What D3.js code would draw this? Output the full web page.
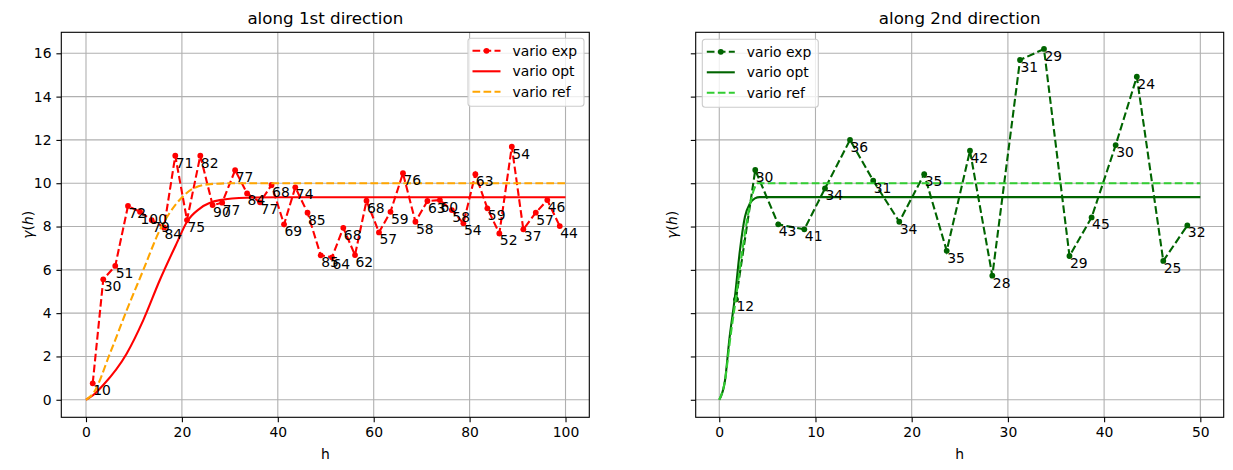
<!DOCTYPE html>
<html>
<head>
<meta charset="utf-8">
<script src="https://cdnjs.cloudflare.com/ajax/libs/d3/7.8.5/d3.min.js"></script>
<style>
body { margin: 0; background: #fff; }
text { font-family: "DejaVu Sans", sans-serif; fill: #000; }
</style>
</head>
<body>
<script>

// Experimental variogram along the 1st direction: lags, values and pair counts.

var lag1 = [1.4, 3.6, 6.1, 8.76, 11.26, 13.7, 16.27, 18.62, 21.06, 23.84,
            26.4, 28.4, 31.1, 33.6, 36.3, 38.7, 41.3, 43.65, 46.2, 48.95,
            51.3, 53.66, 56.1, 58.5, 61.1, 63.5, 66.1, 68.7, 71.2, 73.8,
            76.3, 78.7, 81.2, 83.7, 86.2, 88.8, 91.2, 93.8, 96.2, 98.8];
var gam1 = [0.76, 5.56, 6.18, 8.95, 8.68, 8.3, 7.96, 11.27, 8.3, 11.27,
            8.99, 9.1, 10.6, 9.53, 9.12, 9.92, 8.1, 9.81, 8.64, 6.67,
            6.58, 7.94, 6.68, 9.19, 7.73, 8.68, 10.46, 8.22, 9.18, 9.22,
            8.76, 8.15, 10.42, 8.84, 7.68, 11.69, 7.87, 8.64, 9.22, 8.02];
var npair1 = [10, 30, 51, 72, 100, 79, 84, 71, 75, 82,
              90, 77, 77, 84, 77, 68, 69, 74, 85, 85,
              64, 68, 62, 68, 57, 59, 76, 58, 63, 60,
              58, 54, 63, 59, 52, 54, 37, 57, 46, 44];

// Fitted and reference model curves.

var optH1 = [0, 1.53, 3.6, 8.5, 11.95, 15.4, 18.9, 21.06, 23.8, 27.9, 33.5, 40, 100];
var optG1 = [0, 0.22, 0.68, 2.14, 3.68, 5.53, 7.22, 8.22, 8.84, 9.22, 9.33, 9.35, 9.35];
var refH1 = [0, 1.53, 5, 8.5, 11.95, 15.4, 18.9, 22.4, 25.9, 30.5, 35, 100];
var refG1 = [0, 0.3, 2.14, 4.14, 5.99, 7.84, 9.07, 9.76, 9.96, 10, 10, 10];

// Same thing along the 2nd direction.

var lag2 = [1.74, 3.74, 6.13, 8.84, 10.99, 13.59, 16.0, 18.71, 21.3, 23.64,
            26.06, 28.38, 31.26, 33.75, 36.4, 38.7, 41.2, 43.4, 46.15, 48.65];
var gam2 = [4.64, 10.61, 8.1, 7.87, 9.76, 12.0, 10.12, 8.22, 10.42, 6.88,
            11.5, 5.73, 15.69, 16.2, 6.64, 8.42, 11.76, 14.92, 6.41, 8.05];
var npair2 = [12, 30, 43, 41, 34, 36, 31, 34, 35, 35,
              42, 28, 31, 29, 29, 45, 30, 24, 25, 32];

var optH2 = [0, 0.6, 1.04, 1.63, 2.15, 2.67, 3.19, 3.7, 4.2, 50];
var optG2 = [0, 0.9, 2.76, 4.76, 6.91, 8.45, 9.07, 9.3, 9.36, 9.36];
var refH2 = [0, 0.6, 1.1, 1.75, 2.4, 3.1, 3.6, 4.0, 50];
var refG2 = [0, 0.9, 2.7, 4.76, 6.9, 8.8, 9.7, 10, 10];

var yTicks = [0, 2, 4, 6, 8, 10, 12, 14, 16];
var xTicks1 = [0, 20, 40, 60, 80, 100];
var xTicks2 = [0, 10, 20, 30, 40, 50];
var legendLabels = ['vario exp', 'vario opt', 'vario ref'];

// Figure size and shared y range (both panels share the y axis).
// Note: "top" is taken by window.top, so use plotTop / plotBottom.

var width = 1233,
    height = 470,
    plotTop = 32.3,
    plotBottom = 417.3,
    yDomain = [-0.81, 16.97];

var svg = d3.select('body')
  .append('svg')
  .attr('width', width)
  .attr('height', height);

function zip(a, b) {
  return a.map(function(v, i) { return [v, b[i]]; });
}

function drawPanel(p) {
  var x = d3.scaleLinear().domain(p.xDomain).range([p.left, p.right]);
  var y = d3.scaleLinear().domain(yDomain).range([plotBottom, plotTop]);

  var g = svg.append('g');

  // grid first, it sits under everything
  g.selectAll('.gx').data(p.xTicks).enter().append('line')
    .attr('x1', function(d) { return x(d); })
    .attr('x2', function(d) { return x(d); })
    .attr('y1', plotTop).attr('y2', plotBottom)
    .attr('stroke', '#b0b0b0').attr('stroke-width', 1.1);
  g.selectAll('.gy').data(yTicks).enter().append('line')
    .attr('y1', function(d) { return y(d); })
    .attr('y2', function(d) { return y(d); })
    .attr('x1', p.left).attr('x2', p.right)
    .attr('stroke', '#b0b0b0').attr('stroke-width', 1.1);

  var xAxis = g.append('g')
    .attr('transform', 'translate(0,' + plotBottom + ')')
    .call(d3.axisBottom(x).tickValues(p.xTicks).tickSize(4.9).tickPadding(4.9).tickSizeOuter(0));
  var yAxis = g.append('g')
    .attr('transform', 'translate(' + p.left + ',0)')
    .call(d3.axisLeft(y).tickValues(yTicks).tickSize(4.9).tickPadding(4.9).tickSizeOuter(0)
      .tickFormat(p.yLabels ? d3.format('d') : function() { return ''; }));
  [xAxis, yAxis].forEach(function(a) {
    a.select('.domain').remove();
    a.selectAll('line').attr('stroke', '#000').attr('stroke-width', 1.1);
    a.selectAll('text').attr('font-size', '13.9px').attr('font-family', 'DejaVu Sans');
  });

  var line = d3.line()
    .x(function(d) { return x(d[0]); })
    .y(function(d) { return y(d[1]); });
  var smooth = d3.line()
    .x(function(d) { return x(d[0]); })
    .y(function(d) { return y(d[1]); })
    .curve(d3.curveMonotoneX);

  var pts = zip(p.lag, p.gam);

  // experimental variogram
  g.append('path')
    .datum(pts)
    .attr('d', line)
    .attr('fill', 'none')
    .attr('stroke', p.expColor)
    .attr('stroke-width', 2.1)
    .attr('stroke-dasharray', '7.7,3.3');
  g.selectAll('.dot').data(pts).enter().append('circle')
    .attr('cx', function(d) { return x(d[0]); })
    .attr('cy', function(d) { return y(d[1]); })
    .attr('r', 2.9)
    .attr('fill', p.expColor);

  // fitted model
  g.append('path')
    .datum(zip(p.optH, p.optG))
    .attr('d', smooth)
    .attr('fill', 'none')
    .attr('stroke', p.optColor)
    .attr('stroke-width', 2.1);

  // reference model
  g.append('path')
    .datum(zip(p.refH, p.refG))
    .attr('d', smooth)
    .attr('fill', 'none')
    .attr('stroke', p.refColor)
    .attr('stroke-width', 2.1)
    .attr('stroke-dasharray', '7.7,3.3');

  // pair counts next to each point
  g.selectAll('.lbl').data(pts).enter().append('text')
    .attr('x', function(d) { return x(d[0]) + 0.5; })
    .attr('y', function(d) { return y(d[1]) + 12; })
    .attr('font-size', '13.9px')
    .text(function(d, i) { return p.npair[i]; });

  // frame
  g.append('rect')
    .attr('x', p.left).attr('y', plotTop)
    .attr('width', p.right - p.left).attr('height', plotBottom - plotTop)
    .attr('fill', 'none').attr('stroke', '#000').attr('stroke-width', 1.1);

  // title and axis labels
  g.append('text')
    .attr('x', (p.left + p.right) / 2).attr('y', 24)
    .attr('text-anchor', 'middle').attr('font-size', '16.7px')
    .text(p.title);
  g.append('text')
    .attr('x', (p.left + p.right) / 2).attr('y', 458.5)
    .attr('text-anchor', 'middle').attr('font-size', '13.9px')
    .text('h');
  var yl = g.append('text')
    .attr('transform', 'translate(' + p.ylabelX + ',' + (plotTop + plotBottom) / 2 + ') rotate(-90)')
    .attr('text-anchor', 'middle').attr('font-size', '13.9px');
  yl.append('tspan').attr('font-style', 'italic').text('γ');
  yl.append('tspan').text('(');
  yl.append('tspan').attr('font-style', 'italic').text('h');
  yl.append('tspan').text(')');

  // legend box
  var lg = g.append('g').attr('transform', 'translate(' + p.legX + ',' + p.legY + ')');
  lg.append('rect')
    .attr('width', 116).attr('height', 68).attr('rx', 3)
    .attr('fill', 'rgba(255,255,255,0.8)')
    .attr('stroke', '#cccccc').attr('stroke-width', 1.1);
  var styles = [
    { color: p.expColor, dash: '7.7,3.3', dot: true },
    { color: p.optColor, dash: null, dot: false },
    { color: p.refColor, dash: '7.7,3.3', dot: false }
  ];
  legendLabels.forEach(function(lab, i) {
    var ry = 12.5 + i * 20.5;
    lg.append('line')
      .attr('x1', 4.5).attr('x2', 32.5).attr('y1', ry).attr('y2', ry)
      .attr('stroke', styles[i].color).attr('stroke-width', 2.1)
      .attr('stroke-dasharray', styles[i].dash);
    if (styles[i].dot) {
      lg.append('circle').attr('cx', 18.5).attr('cy', ry).attr('r', 2.9).attr('fill', styles[i].color);
    }
    lg.append('text')
      .attr('x', 44.5).attr('y', ry).attr('dy', '0.35em')
      .attr('font-size', '13.9px')
      .text(lab);
  });
}

drawPanel({
  title: 'along 1st direction',
  left: 61.3, right: 589.3,
  xDomain: [-5.15, 104.96],
  xTicks: xTicks1,
  yLabels: true,
  ylabelX: 33,
  lag: lag1, gam: gam1, npair: npair1,
  optH: optH1, optG: optG1, refH: refH1, refG: refG1,
  expColor: 'red', optColor: 'red', refColor: 'orange',
  legX: 468, legY: 38.3
});

drawPanel({
  title: 'along 2nd direction',
  left: 695.7, right: 1223.7,
  xDomain: [-2.45, 52.43],
  xTicks: xTicks2,
  yLabels: false,
  ylabelX: 677,
  lag: lag2, gam: gam2, npair: npair2,
  optH: optH2, optG: optG2, refH: refH2, refG: refG2,
  expColor: 'darkgreen', optColor: 'darkgreen', refColor: 'limegreen',
  legX: 702.3, legY: 39.3
});

</script>
</body>
</html>
